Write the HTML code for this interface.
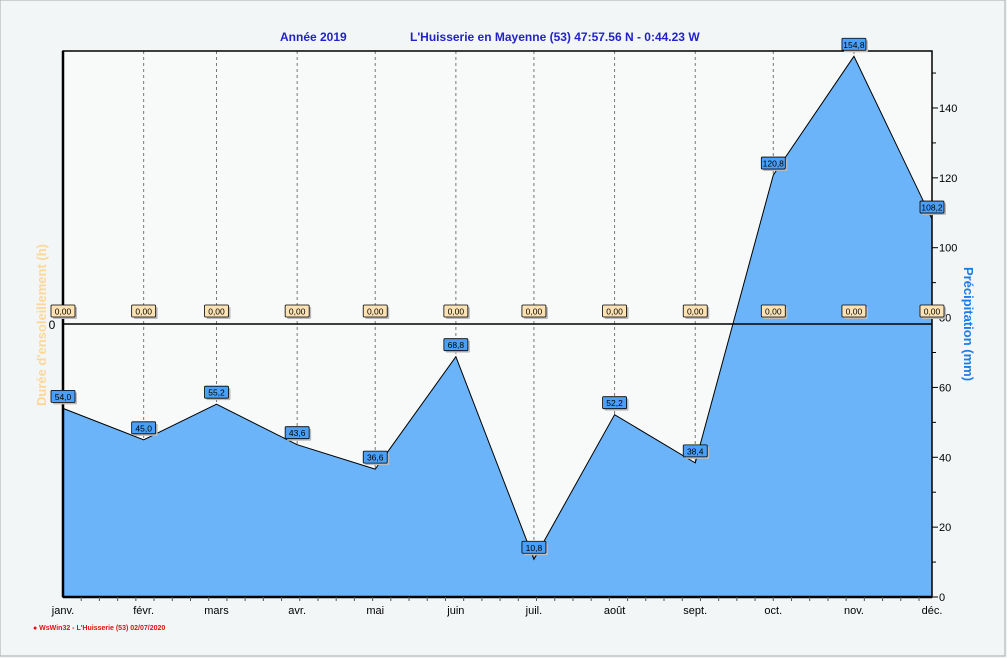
<!DOCTYPE html>
<html><head><meta charset="utf-8"><style>
body{margin:0;background:#f3f6f6;}
svg{display:block;font-family:"Liberation Sans",sans-serif;}
</style></head><body>
<svg id="c" width="1007" height="658">
<rect x="0" y="0" width="1005" height="656" fill="#f3f6f6" stroke="#aaa"/>
<text x="280" y="41" font-size="12" font-weight="bold" fill="#2222cc">Année  2019</text>
<text x="410" y="41" font-size="12" font-weight="bold" fill="#2222cc">L'Huisserie en Mayenne (53) 47:57.56 N - 0:44.23 W</text>
<rect x="63" y="51" width="869" height="546" fill="#f8fafa"/>
<g id="grid"></g>
<path id="area" fill="#6cb4fa" stroke="none"/>
<path id="line" fill="none" stroke="#000" stroke-width="1"/>
<line x1="63" y1="324" x2="932" y2="324" stroke="#000" stroke-width="1.5"/>
<rect x="63" y="51" width="869" height="546" fill="none" stroke="#000" stroke-width="1.5"/>
<line x1="63" y1="51" x2="63" y2="597" stroke="#000" stroke-width="2.5"/>
<line x1="63" y1="597" x2="932" y2="597" stroke="#000" stroke-width="2.5"/>
<text x="52" y="329" font-size="12" text-anchor="middle">0</text>
<text transform="translate(46,325) rotate(-90)" font-size="13" font-weight="bold" fill="#fcd898" text-anchor="middle">Durée d'ensoleillement  (h)</text>
<text transform="translate(964,324) rotate(90)" font-size="13" font-weight="bold" fill="#1a7ee8" text-anchor="middle">Précipitation  (mm)</text>
<g id="axes"></g>
<g id="labels"></g>
<text x="33" y="630" font-size="7" font-weight="bold" fill="#e01010">● WsWin32  -  L'Huisserie (53)  02/07/2020</text>
</svg>
<script>
const months=["janv.","févr.","mars","avr.","mai","juin","juil.","août","sept.","oct.","nov.","déc."];
const dayOfYear=[0,31,59,90,120,151,181,212,243,273,304,334];
const precip=[54.0,45.0,55.2,43.6,36.6,68.8,10.8,52.2,38.4,120.8,154.8,108.2];
const sunshine=[0,0,0,0,0,0,0,0,0,0,0,0];
const yTicks=[0,20,40,60,80,100,120,140];
const NS="http://www.w3.org/2000/svg";
const X=d=>63+d*(869/334);
const Y=v=>597-v*3.493;
function mk(tag,attrs,parent){const e=document.createElementNS(NS,tag);for(const k in attrs)e.setAttribute(k,attrs[k]);parent.appendChild(e);return e;}
const grid=document.getElementById('grid'),axes=document.getElementById('axes'),labels=document.getElementById('labels');
dayOfYear.forEach((d,i)=>{
 if(i>0&&i<11){const l=mk('line',{x1:X(d),x2:X(d),y1:51,y2:597,stroke:'#777','stroke-dasharray':'3,3'},grid);
 
 }
 const t=mk('text',{x:X(d),y:614,'font-size':11,'text-anchor':'middle'},axes);t.textContent=months[i];
 
 
});
for(let d=7;d<334;d+=7){const l=mk('line',{x1:X(d),x2:X(d),y1:597,y2:601,stroke:'#555'},axes);
 
 }
for(let v=0;v<=150;v+=10){const l=mk('line',{x1:932,x2:v%20==0?938:936,y1:Y(v),y2:Y(v),stroke:'#000'},axes);
 
 }
yTicks.forEach(v=>{const t=mk('text',{x:939,y:Y(v)+4,'font-size':11},axes);t.textContent=v;
 
 });
let p='',a='M'+X(0)+','+Y(0);
precip.forEach((v,i)=>{p+=(i?'L':'M')+X(dayOfYear[i])+','+Y(v);a+='L'+X(dayOfYear[i])+','+Y(v);});
a+='L'+X(334)+','+Y(0)+'Z';
document.getElementById('area').setAttribute('d',a);
document.getElementById('line').setAttribute('d',p);
function badge(x,y,txt,fill,name){
 const g=mk('g',{},labels);
 
 
 mk('rect',{x:x-12+2,y:y-6+2,width:24,height:12,fill:'#bbb',rx:1},g);
 mk('rect',{x:x-12,y:y-6,width:24,height:12,fill:fill,stroke:'#000','stroke-width':0.8,rx:1},g);
 const t=mk('text',{x:x,y:y+3.5,'font-size':8.5,'text-anchor':'middle'},g);t.textContent=txt;
}
precip.forEach((v,i)=>{let x=X(dayOfYear[i]);badge(x,Y(v)-12,v.toFixed(1).replace('.',','),'#4aa0f8','precip-value-label');});
sunshine.forEach((v,i)=>{badge(X(dayOfYear[i]),311-v,v.toFixed(2).replace('.',','),'#fde2b4','sunshine-value-label');});
</script>
</body></html>
